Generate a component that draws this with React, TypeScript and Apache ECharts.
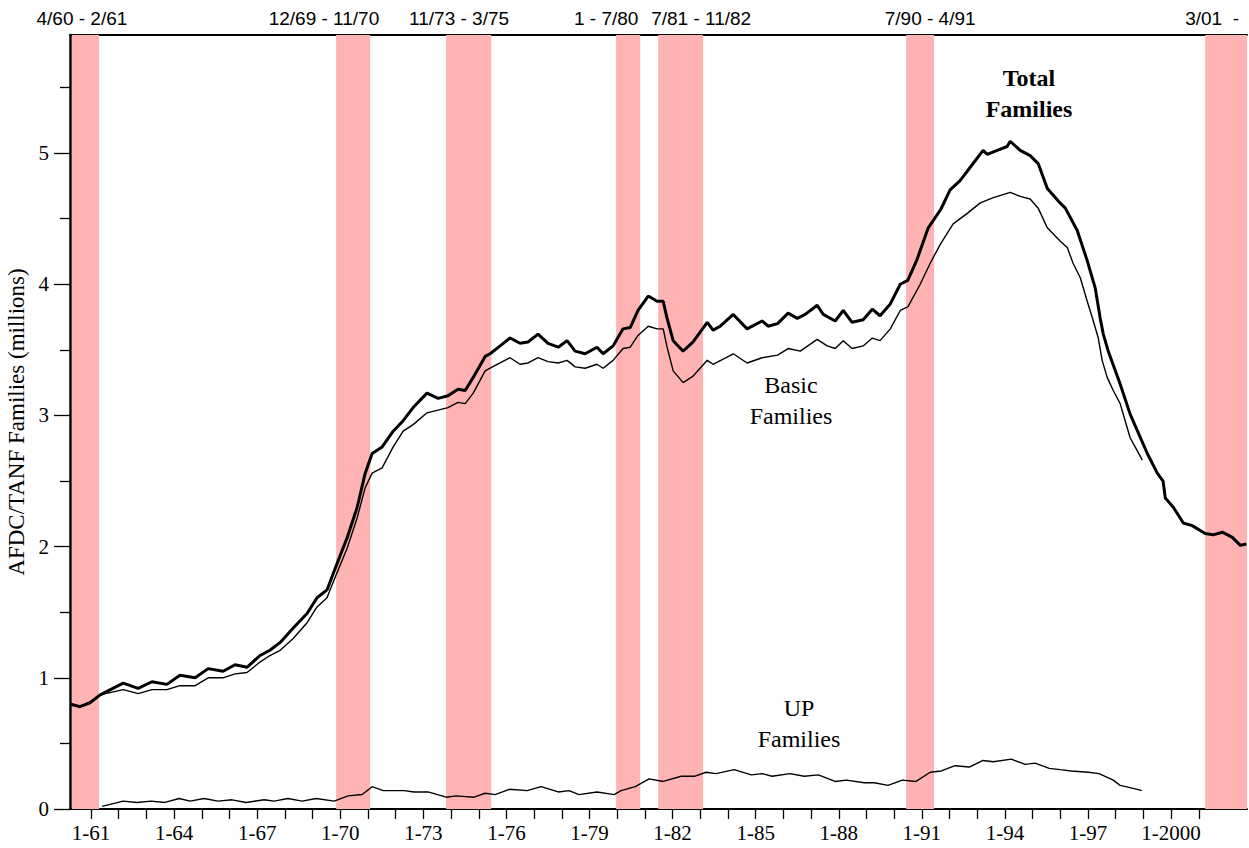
import React, { useEffect, useRef } from "react";
import * as echarts from "echarts";

// ---- data (decimal years, millions of families) ----
const totalFamilies: [number, number][] = [
  [1960.24, 0.8], [1960.6, 0.78], [1960.96, 0.81], [1961.33, 0.87], [1962.16, 0.96], [1962.7, 0.92],
  [1963.2, 0.97], [1963.74, 0.95], [1964.21, 1.02], [1964.76, 1.0], [1965.23, 1.07], [1965.77, 1.05],
  [1966.2, 1.1], [1966.63, 1.08], [1967.1, 1.17], [1967.46, 1.21], [1967.83, 1.27], [1968.3, 1.38],
  [1968.8, 1.49], [1969.16, 1.61], [1969.52, 1.67], [1969.88, 1.87], [1970.25, 2.07], [1970.61, 2.3],
  [1970.9, 2.56], [1971.15, 2.71], [1971.51, 2.76], [1971.91, 2.88], [1972.27, 2.96], [1972.63, 3.06],
  [1973.13, 3.17], [1973.53, 3.13], [1973.89, 3.15], [1974.25, 3.2], [1974.51, 3.19], [1974.8, 3.29],
  [1975.23, 3.45], [1975.41, 3.47], [1975.77, 3.53], [1976.13, 3.59], [1976.49, 3.55], [1976.78, 3.56],
  [1977.14, 3.62], [1977.5, 3.55], [1977.87, 3.52], [1978.19, 3.57], [1978.48, 3.49], [1978.84, 3.47],
  [1979.27, 3.52], [1979.49, 3.47], [1979.85, 3.53], [1980.21, 3.66], [1980.47, 3.67], [1980.75, 3.8],
  [1981.12, 3.91], [1981.44, 3.87], [1981.66, 3.87], [1981.8, 3.74], [1982.02, 3.57], [1982.38, 3.49],
  [1982.74, 3.56], [1983.25, 3.71], [1983.46, 3.65], [1983.72, 3.68], [1984.19, 3.77], [1984.69, 3.66],
  [1985.23, 3.72], [1985.45, 3.68], [1985.79, 3.7], [1986.17, 3.78], [1986.5, 3.74], [1986.79, 3.77],
  [1987.22, 3.84], [1987.44, 3.77], [1987.87, 3.72], [1988.16, 3.8], [1988.48, 3.71], [1988.88, 3.73],
  [1989.21, 3.81], [1989.49, 3.76], [1989.86, 3.85], [1990.22, 4.0], [1990.49, 4.03], [1990.81, 4.18],
  [1991.23, 4.43], [1991.68, 4.57], [1992.02, 4.72], [1992.38, 4.79], [1992.74, 4.89], [1993.21, 5.02],
  [1993.36, 4.99], [1993.72, 5.02], [1994.08, 5.05], [1994.19, 5.09], [1994.55, 5.02], [1994.91, 4.98],
  [1995.2, 4.92], [1995.53, 4.73], [1995.99, 4.62], [1996.18, 4.58], [1996.61, 4.41], [1996.97, 4.18],
  [1997.26, 3.97], [1997.44, 3.74], [1997.55, 3.62], [1997.73, 3.49], [1998.16, 3.24], [1998.52, 3.01],
  [1999.14, 2.71], [1999.5, 2.56], [1999.71, 2.5], [1999.79, 2.37], [2000.08, 2.3], [2000.44, 2.18],
  [2000.76, 2.16], [2001.23, 2.1], [2001.52, 2.09], [2001.85, 2.11], [2002.21, 2.07], [2002.5, 2.01],
  [2002.72, 2.02],
];

const basicFamilies: [number, number][] = [
  [1960.24, 0.8], [1960.6, 0.78], [1960.96, 0.81], [1961.33, 0.87], [1962.16, 0.91], [1962.7, 0.88],
  [1963.2, 0.91], [1963.74, 0.91], [1964.21, 0.94], [1964.76, 0.94], [1965.23, 1.0], [1965.77, 1.0],
  [1966.2, 1.03], [1966.63, 1.04], [1967.1, 1.12], [1967.46, 1.17], [1967.83, 1.21], [1968.3, 1.3],
  [1968.8, 1.42], [1969.16, 1.54], [1969.52, 1.61], [1969.88, 1.8], [1970.25, 1.99], [1970.61, 2.22],
  [1970.9, 2.45], [1971.15, 2.56], [1971.51, 2.6], [1971.91, 2.76], [1972.27, 2.88], [1972.63, 2.93],
  [1973.13, 3.02], [1973.53, 3.04], [1973.89, 3.06], [1974.25, 3.1], [1974.51, 3.09], [1974.8, 3.17],
  [1975.23, 3.34], [1975.41, 3.36], [1975.77, 3.4], [1976.13, 3.44], [1976.49, 3.39], [1976.78, 3.4],
  [1977.14, 3.44], [1977.5, 3.41], [1977.87, 3.4], [1978.19, 3.42], [1978.48, 3.37], [1978.84, 3.36],
  [1979.27, 3.39], [1979.49, 3.36], [1979.85, 3.42], [1980.21, 3.51], [1980.47, 3.52], [1980.75, 3.61],
  [1981.12, 3.68], [1981.44, 3.66], [1981.66, 3.66], [1981.8, 3.52], [1982.02, 3.34], [1982.38, 3.25],
  [1982.74, 3.3], [1983.25, 3.42], [1983.46, 3.39], [1984.19, 3.47], [1984.69, 3.4], [1985.23, 3.44],
  [1985.79, 3.46], [1986.17, 3.51], [1986.61, 3.49], [1987.22, 3.58], [1987.58, 3.53], [1987.87, 3.51],
  [1988.16, 3.57], [1988.48, 3.51], [1988.88, 3.53], [1989.21, 3.59], [1989.49, 3.57], [1989.86, 3.66],
  [1990.22, 3.8], [1990.5, 3.83], [1990.94, 4.0], [1991.3, 4.16], [1991.68, 4.31], [1992.13, 4.46],
  [1992.64, 4.54], [1993.11, 4.62], [1993.58, 4.66], [1994.19, 4.7], [1994.55, 4.67], [1994.91, 4.65],
  [1995.2, 4.58], [1995.53, 4.43], [1995.99, 4.33], [1996.25, 4.28], [1996.46, 4.16], [1996.72, 4.05],
  [1996.97, 3.87], [1997.19, 3.72], [1997.37, 3.59], [1997.51, 3.42], [1997.69, 3.29], [1997.91, 3.19],
  [1998.16, 3.09], [1998.34, 2.96], [1998.52, 2.83], [1998.78, 2.73], [1998.96, 2.66],
];

const upFamilies: [number, number][] = [
  [1961.4, 0.02], [1962.16, 0.06], [1962.66, 0.05], [1963.17, 0.06], [1963.67, 0.05], [1964.18, 0.08],
  [1964.58, 0.06], [1965.08, 0.08], [1965.59, 0.06], [1966.09, 0.07], [1966.6, 0.05], [1967.25, 0.07],
  [1967.61, 0.06], [1968.11, 0.08], [1968.62, 0.06], [1969.13, 0.08], [1969.78, 0.06], [1970.28, 0.1],
  [1970.79, 0.11], [1971.15, 0.17], [1971.55, 0.14], [1972.05, 0.14], [1972.3, 0.14], [1972.66, 0.13],
  [1973.17, 0.13], [1973.82, 0.09], [1974.18, 0.1], [1974.83, 0.09], [1975.23, 0.12], [1975.59, 0.11],
  [1976.1, 0.15], [1976.75, 0.14], [1977.25, 0.17], [1977.87, 0.13], [1978.26, 0.14], [1978.62, 0.11],
  [1979.27, 0.13], [1979.89, 0.11], [1980.14, 0.14], [1980.65, 0.17], [1981.15, 0.23], [1981.66, 0.21],
  [1982.31, 0.25], [1982.81, 0.25], [1983.21, 0.28], [1983.57, 0.27], [1984.22, 0.3], [1984.84, 0.26],
  [1985.23, 0.27], [1985.59, 0.25], [1986.24, 0.27], [1986.75, 0.25], [1987.26, 0.26], [1987.87, 0.21],
  [1988.27, 0.22], [1988.92, 0.2], [1989.28, 0.2], [1989.78, 0.18], [1990.29, 0.22], [1990.79, 0.21],
  [1991.3, 0.28], [1991.7, 0.29], [1992.2, 0.33], [1992.71, 0.32], [1993.21, 0.37], [1993.58, 0.36],
  [1994.23, 0.38], [1994.73, 0.34], [1995.09, 0.35], [1995.6, 0.31], [1995.99, 0.3], [1996.39, 0.29],
  [1997.01, 0.28], [1997.4, 0.27], [1997.91, 0.22], [1998.16, 0.18], [1998.78, 0.15], [1998.94, 0.14],
];

const bandStarts = [1960.31, 1969.85, 1973.82, 1979.96, 1981.48, 1990.43, 2001.23];
const bandEnds = [1961.29, 1971.08, 1975.45, 1980.83, 1983.1, 1991.44, 2002.74];
const bandLabels = ["4/60 - 2/61", "12/69 - 11/70", "11/73 - 3/75", "1 - 7/80", "7/81 - 11/82", "7/90 - 4/91", "3/01  -"];
const bandLabelYears = [1960.67, 1969.41, 1974.29, 1979.6, 1983.03, 1991.3, 2001.48];

const xTickYears = [
  1961, 1962, 1963, 1964, 1965, 1966, 1967, 1968, 1969, 1970, 1971, 1972, 1973, 1974, 1975, 1976, 1977,
  1978, 1979, 1980, 1981, 1982, 1983, 1984, 1985, 1986, 1987, 1988, 1989, 1990, 1991, 1992, 1993, 1994,
  1995, 1996, 1997, 1998, 1999, 2000, 2001,
];
const xLabelYears = [1961, 1964, 1967, 1970, 1973, 1976, 1979, 1982, 1985, 1988, 1991, 1994, 1997, 2000];
const yMajorTicks = [0, 1, 2, 3, 4, 5];
const yMinorTicks = [0.5, 1.5, 2.5, 3.5, 4.5, 5.5];

const X_MIN = 1960.24;
const X_MAX = 2002.74;
const Y_MAX = 5.9;

const SERIF = "'Liberation Serif', 'Times New Roman', serif";
const SANS = "'Liberation Sans', Arial, sans-serif";

export default function App() {
  const ref = useRef<HTMLDivElement>(null);

  useEffect(() => {
    if (!ref.current) return;
    const chart = echarts.init(ref.current, undefined, { renderer: "svg" });

    const option: any = {
      animation: false,
      backgroundColor: "#fff",
      grid: { left: 70, right: 2, top: 35, bottom: 39, containLabel: false, outerBoundsMode: "none" },
      xAxis: [
        {
          type: "value",
          min: X_MIN,
          max: X_MAX,
          position: "bottom",
          axisLine: { show: true, onZero: false, lineStyle: { color: "#000", width: 2 } },
          axisTick: { show: true, customValues: xTickYears, length: 10, lineStyle: { color: "#000", width: 1.3 } },
          axisLabel: {
            customValues: xLabelYears,
            formatter: (v: number) => (v === 2000 ? "1-2000" : "1-" + String(Math.round(v)).slice(2)),
            fontFamily: SERIF,
            fontSize: 21,
            color: "#000",
            margin: 13,
          },
          splitLine: { show: false },
        },
        {
          type: "value",
          min: X_MIN,
          max: X_MAX,
          position: "top",
          axisLine: { show: true, onZero: false, lineStyle: { color: "#000", width: 2 } },
          axisTick: { show: false },
          axisLabel: { show: false },
          splitLine: { show: false },
        },
      ],
      yAxis: [
        {
          type: "value",
          min: 0,
          max: Y_MAX,
          interval: 1,
          position: "left",
          name: "AFDC/TANF Families (millions)",
          nameLocation: "middle",
          nameGap: 40,
          nameTextStyle: { fontFamily: SERIF, fontSize: 23, color: "#000" },
          axisLine: { show: true, onZero: false, lineStyle: { color: "#000", width: 2.5 } },
          axisTick: { show: true, customValues: yMajorTicks, length: 16, lineStyle: { color: "#000", width: 1.3 } },
          axisLabel: { customValues: yMajorTicks, fontFamily: SERIF, fontSize: 21, color: "#000", margin: 21 },
          splitLine: { show: false },
        },
        {
          type: "value",
          min: 0,
          max: Y_MAX,
          interval: 1,
          position: "left",
          axisLine: { show: false },
          axisTick: { show: true, customValues: yMinorTicks, length: 10, lineStyle: { color: "#000", width: 1.3 } },
          axisLabel: { show: false },
          splitLine: { show: false },
        },
      ],
      series: [
        {
          name: "bands",
          type: "line",
          data: [],
          z: 1,
          silent: true,
          markArea: {
            silent: true,
            itemStyle: { color: "#FFB3B3" },
            data: bandStarts.map((s, i) => [{ xAxis: s }, { xAxis: bandEnds[i] }]),
          },
        },
        {
          name: "Basic Families",
          type: "line",
          data: basicFamilies,
          showSymbol: false,
          z: 3,
          lineStyle: { color: "#000", width: 1.4 },
        },
        {
          name: "UP Families",
          type: "line",
          data: upFamilies,
          showSymbol: false,
          z: 3,
          lineStyle: { color: "#000", width: 1.4 },
        },
        {
          name: "Total Families",
          type: "line",
          data: totalFamilies,
          showSymbol: false,
          z: 4,
          lineStyle: { color: "#000", width: 3 },
        },
      ],
    };
    chart.setOption(option);

    const textEl = (text: string, x: number, y: number, font: string, lineHeight?: number) => ({
      type: "text",
      x,
      y,
      silent: true,
      style: {
        text,
        fill: "#000",
        font,
        lineHeight,
        textAlign: "center",
        textVerticalAlign: "middle",
        align: "center",
        verticalAlign: "middle",
      },
    });

    const bandTexts = bandLabels.map((lbl, i) => {
      const px = chart.convertToPixel({ xAxisIndex: 0 }, bandLabelYears[i]) as number;
      return textEl(lbl, px, 18, `19px ${SANS}`);
    });

    chart.setOption({
      graphic: [
        ...bandTexts,
        textEl("Total\nFamilies", 1029, 93, `bold 24px ${SERIF}`, 31),
        textEl("Basic\nFamilies", 791, 400, `24px ${SERIF}`, 31),
        textEl("UP\nFamilies", 799, 723, `24px ${SERIF}`, 31),
      ],
    });

    return () => chart.dispose();
  }, []);

  return <div ref={ref} style={{ position: "fixed", left: 0, top: 0, width: 1249, height: 848 }} />;
}
